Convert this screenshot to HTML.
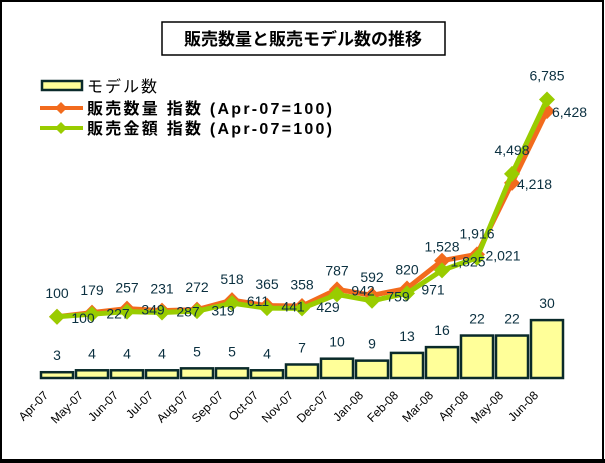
<!DOCTYPE html>
<html><head><meta charset="utf-8"><style>
body{margin:0;background:#fff}
svg{display:block}
text{font-family:"Liberation Sans","Noto Sans CJK JP",sans-serif}
</style></head><body>
<svg id="chart" width="605" height="463">
<rect x="1" y="1" width="602" height="460" fill="#fff" stroke="#000" stroke-width="2"/>
<rect x="0" y="459" width="605" height="4" fill="#000"/>
<g>
<rect x="162" y="22" width="283" height="33" fill="#fff" stroke="#000" stroke-width="1.5"/>
<text x="303" y="45" text-anchor="middle" font-size="17" font-weight="bold" fill="#000">販売数量と販売モデル数の推移</text>
</g>
<g>
<g><rect x="42" y="81" width="40" height="9" fill="#ffff99" stroke="#0a2a2a" stroke-width="2.5"/>
<text x="87" y="92" font-size="16" fill="#000" textLength="70">モデル数</text></g>
<g><line x1="40" y1="108" x2="83" y2="108" stroke="#f26b1d" stroke-width="4"/><path d="M61 102 L67 108 L61 114 L55 108Z" fill="#f26b1d"/>
<text x="87" y="114" font-size="16" font-weight="bold" fill="#000" textLength="245">販売数量 指数 (Apr-07=100)</text></g>
<g><line x1="40" y1="128" x2="83" y2="128" stroke="#99cc00" stroke-width="4"/><path d="M61 122 L67 128 L61 134 L55 128Z" fill="#99cc00"/>
<text x="87" y="134" font-size="16" font-weight="bold" fill="#000" textLength="245">販売金額 指数 (Apr-07=100)</text></g>
</g>
<g id="plot"></g>
</svg>
<script>
const categories=["Apr-07","May-07","Jun-07","Jul-07","Aug-07","Sep-07","Oct-07","Nov-07","Dec-07","Jan-08","Feb-08","Mar-08","Apr-08","May-08","Jun-08"];
const models=[3,4,4,4,5,5,4,7,10,9,13,16,22,22,30];
const quantityIndex=[100,227,349,287,319,611,441,429,942,759,971,1825,2021,4218,6428];
const amountIndex=[100,179,257,231,272,518,365,358,787,592,820,1528,1916,4498,6785];
const NS="http://www.w3.org/2000/svg";
const g=document.getElementById('plot');
function mk(t,a,p){const e=document.createElementNS(NS,t);for(const k in a)e.setAttribute(k,a[k]);(p||g).appendChild(e);return e;}
const xC=i=>57+i*35;
const yBar=v=>378-v*1.93;
const yLine=v=>320-v*0.0325;
function fmt(v){return v.toLocaleString('en-US');}
models.forEach((v,i)=>{
 const r=mk('rect',{x:xC(i)-16,y:yBar(v),width:32,height:378-yBar(v),fill:'#ffff99',stroke:'#0a2a2a','stroke-width':2.5});
 
 
 const t=mk('text',{x:xC(i),y:yBar(v)-12,'text-anchor':'middle','font-size':14,fill:'#0b3040'});
 t.textContent=v;
 
 
});
categories.forEach((c,i)=>{
 const t=mk('text',{x:xC(i)-8,y:396,'text-anchor':'end','font-size':12,fill:'#000',transform:`rotate(-45 ${xC(i)-8} 396)`});
 t.textContent=c;
 
 
});
function series(vals,color,name){
 const pts=vals.map((v,i)=>xC(i)+','+yLine(v)).join(' ');
 const pl=mk('polyline',{points:pts,fill:'none',stroke:color,'stroke-width':5,'stroke-linejoin':'round'});
 
 
 vals.forEach((v,i)=>{
  const x=xC(i),y=yLine(v);
  const m=mk('path',{d:`M${x} ${y-8} L${x+8} ${y} L${x} ${y+8} L${x-8} ${y}Z`,fill:color});
  
  
 });
}
series(quantityIndex,'#f26b1d','quantity');
series(amountIndex,'#99cc00','amount');
function labels(vals,name,above){
 vals.forEach((v,i)=>{
  const x=xC(i),y=yLine(v);
  let tx,ty,anc='middle';
  if(above){tx=x;ty=y-19;}
  else if(i>=13){tx=x+5;ty=y+6;anc='start';}
  else{tx=x+26;ty=y+6;}
  const t=mk('text',{x:tx,y:ty,'text-anchor':anc,'font-size':14,fill:'#0b3040'});
  t.textContent=fmt(v);
  
  
 });
}
labels(quantityIndex,'quantity',false);
labels(amountIndex,'amount',true);
</script>
</body></html>
